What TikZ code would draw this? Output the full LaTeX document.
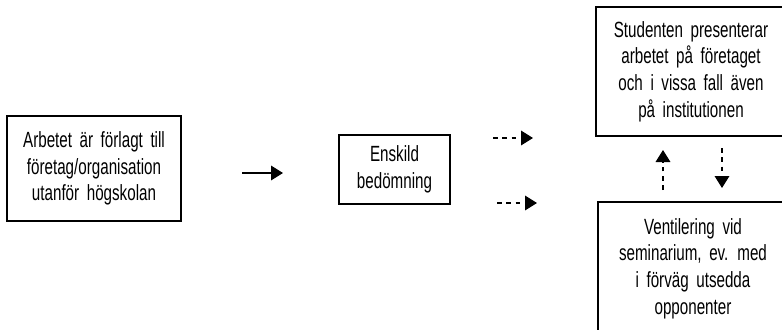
\documentclass[tikz,border=0pt]{standalone}
\usepackage{fontspec}
\setmainfont{Liberation Sans}[FakeStretch=0.69,WordSpace=1.8]
\usetikzlibrary{arrows.meta}
\tikzset{
  boite/.style={draw, line width=1pt, align=center, inner sep=0pt},
  fleche/.style={line width=0.9pt, -{Triangle[length=9pt,width=11pt]}},
  pointille/.style={fleche, dash pattern=on 3.5pt off 3.5pt}
}
\begin{document}
\begin{tikzpicture}[x=0.75pt,y=-0.75pt,font=\fontsize{16.5}{20}\selectfont]
	\useasboundingbox (0,0) rectangle (782,329);
	% boxes
	\node[boite, minimum width=130.5pt, minimum height=78.75pt] (arbete) at (94,168.5)
		{Arbetet är förlagt till\\företag/organisation\\utanför högskolan};
	\node[boite, minimum width=83.25pt, minimum height=51.75pt] (enskild) at (394.5,169.5)
		{Enskild\\bedömning};
	\node[boite, minimum width=142.5pt, minimum height=96.75pt] (presentera) at (691,71.5)
		{Studenten presenterar\\arbetet på företaget\\och i vissa fall även\\på institutionen};
	\node[boite, minimum width=142.5pt, minimum height=99.75pt] (seminarium) at (693,268.5)
		{Ventilering vid\\seminarium, ev. med\\i förväg utsedda\\opponenter};
	% free arrow ends
	\coordinate (1) at (242,173);
	\coordinate (2) at (283,173);
	\coordinate (3) at (493,138);
	\coordinate (4) at (533,138);
	\coordinate (5) at (497,203);
	\coordinate (6) at (537,203);
	\coordinate (7) at (663,190);
	\coordinate (8) at (663,150);
	\coordinate (9) at (722,148);
	\coordinate (10) at (722,188);
	\draw[fleche] (1) -- (2);
	\draw[pointille] (3) -- (4);
	\draw[pointille] (5) -- (6);
	\draw[pointille] (7) -- (8);
	\draw[pointille] (9) -- (10);
\end{tikzpicture}
\end{document}
